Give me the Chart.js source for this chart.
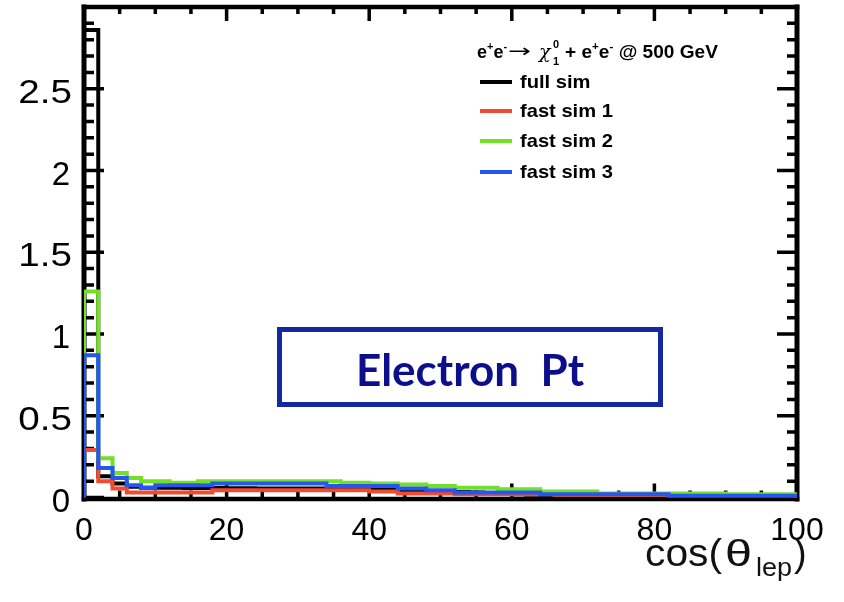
<!DOCTYPE html>
<html>
<head>
<meta charset="utf-8">
<script src="https://cdn.jsdelivr.net/npm/chart.js@4.4.1/dist/chart.umd.min.js"></script>
<style>
  html, body { margin: 0; padding: 0; background: #fff; }
  #wrap { width: 844px; height: 602px; }
</style>
</head>
<body>
<div id="wrap"><canvas id="histChart" width="844" height="602"></canvas></div>
<script>
// histogram binning: 50 bins of width 2 between 0 and 100
const binStart = 0;
const binWidth = 2;

// bin contents
const fullSim = [
  2.86, 0.13, 0.085, 0.065, 0.06, 0.06, 0.06, 0.058, 0.058, 0.058,
  0.056, 0.056, 0.055, 0.055, 0.055, 0.055, 0.055, 0.053, 0.052, 0.05,
  0.048, 0.046, 0.044, 0.042, 0.04, 0.037, 0.034, 0.03, 0.027, 0.024,
  0.02, 0.017, 0.012, 0.01, 0.008, 0.008, 0.007, 0.007, 0.006, 0.006,
  0.005, 0.005, 0.005, 0.004, 0.004, 0.004, 0.004, 0.003, 0.003, 0.003
];
const fastSim1 = [
  0.29, 0.10, 0.055, 0.03, 0.03, 0.03, 0.03, 0.03, 0.03, 0.045,
  0.045, 0.045, 0.045, 0.045, 0.045, 0.045, 0.045, 0.045, 0.045, 0.045,
  0.037, 0.037, 0.025, 0.025, 0.025, 0.025, 0.02, 0.02, 0.02, 0.02,
  0.02, 0.02, 0.02, 0.015, 0.015, 0.015, 0.015, 0.015, 0.015, 0.015,
  0.015, 0.005, 0.005, 0.005, 0.005, 0.005, 0.005, 0.005, 0.005, 0.005
];
const fastSim2 = [
  1.26, 0.24, 0.15, 0.12, 0.10, 0.10, 0.09, 0.09, 0.10, 0.10,
  0.10, 0.10, 0.10, 0.10, 0.10, 0.10, 0.10, 0.10, 0.09, 0.09,
  0.085, 0.085, 0.08, 0.08, 0.07, 0.07, 0.06, 0.06, 0.06, 0.05,
  0.05, 0.05, 0.037, 0.037, 0.037, 0.037, 0.025, 0.025, 0.025, 0.025,
  0.025, 0.025, 0.025, 0.025, 0.025, 0.02, 0.02, 0.02, 0.02, 0.02
];
const fastSim3 = [
  0.87, 0.18, 0.12, 0.075, 0.06, 0.075, 0.075, 0.075, 0.075, 0.085,
  0.085, 0.085, 0.085, 0.085, 0.085, 0.085, 0.085, 0.07, 0.07, 0.07,
  0.07, 0.07, 0.055, 0.055, 0.045, 0.045, 0.03, 0.03, 0.03, 0.03,
  0.03, 0.03, 0.02, 0.02, 0.02, 0.02, 0.02, 0.02, 0.02, 0.02,
  0.02, 0.01, 0.01, 0.01, 0.01, 0.01, 0.01, 0.01, 0.01, 0.01
];

const seriesNames = ["full sim", "fast sim 1", "fast sim 2", "fast sim 3"];
const seriesColors = ["#000000", "#f04a30", "#72e024", "#2456f2"];

const xTicks = [0, 20, 40, 60, 80, 100];
const xTickLabels = ["0", "20", "40", "60", "80", "100"];
const yTicks = [0, 0.5, 1, 1.5, 2, 2.5];
const yTickLabels = ["0", "0.5", "1", "1.5", "2", "2.5"];
const xMinorStep = 5;
const yMinorStep = 0.1;

// turn bin contents into the outline of a ROOT-style step histogram
function histPoints(vals) {
  const pts = [{ x: binStart, y: 0 }];
  vals.forEach((v, i) => pts.push({ x: binStart + i * binWidth, y: v }));
  const end = binStart + vals.length * binWidth;
  pts.push({ x: end, y: vals[vals.length - 1] });
  pts.push({ x: end, y: 0 });
  return pts;
}

const allSeries = [fullSim, fastSim1, fastSim2, fastSim3];
// drawing order: blue on top, black underneath
const drawOrder = [3, 2, 1, 0];

const datasets = allSeries.map((vals, i) => ({
  label: seriesNames[i],
  data: histPoints(vals),
  borderColor: seriesColors[i],
  backgroundColor: seriesColors[i],
  borderWidth: 4,
  stepped: "before",
  pointRadius: 0,
  fill: false,
  tension: 0,
  borderJoinStyle: "miter",
  borderCapStyle: "butt",
  order: drawOrder[i],
}));

// draw text squeezed/stretched to a given width
function fitText(ctx, text, x, y, width) {
  const w = ctx.measureText(text).width;
  ctx.save();
  ctx.translate(x, y);
  ctx.scale(width / w, 1);
  ctx.fillText(text, 0, 0);
  ctx.restore();
}

// frame, inward ticks and tick labels like a ROOT canvas
const rootFrame = {
  id: "rootFrame",
  beforeDatasetsDraw(chart) {
    const ctx = chart.ctx;
    const xs = chart.scales.x;
    const ys = chart.scales.y;
    const L = xs.getPixelForValue(0), R = xs.getPixelForValue(100);
    const B = ys.getPixelForValue(0), T = ys.getPixelForValue(3);
    ctx.save();
    ctx.strokeStyle = "#000";
    ctx.lineCap = "square";
    // frame
    ctx.lineWidth = 5;
    ctx.beginPath();
    ctx.moveTo(L, T); ctx.lineTo(L, B + 1.5);
    ctx.moveTo(R, T); ctx.lineTo(R, B + 1.5);
    ctx.stroke();
    ctx.lineWidth = 4.5;
    ctx.beginPath();
    ctx.moveTo(L, B + 1.5); ctx.lineTo(R, B + 1.5);
    ctx.moveTo(L, T); ctx.lineTo(R, T);
    ctx.stroke();

    ctx.lineCap = "butt";
    ctx.lineWidth = 3.5;
    ctx.beginPath();
    // x ticks bottom and top
    for (let v = 0; v <= 100 + 1e-9; v += xMinorStep) {
      const px = xs.getPixelForValue(v);
      const len = v % 20 === 0 ? 14 : 7;
      ctx.moveTo(px, B); ctx.lineTo(px, B - len);
      ctx.moveTo(px, T); ctx.lineTo(px, T + len);
    }
    // y ticks left and right
    for (let k = 0; k <= 30; k++) {
      const v = k * yMinorStep;
      const py = ys.getPixelForValue(v);
      const len = k % 5 === 0 ? 20 : 10;
      ctx.moveTo(L, py); ctx.lineTo(L + len, py);
      ctx.moveTo(R, py); ctx.lineTo(R - len, py);
    }
    ctx.stroke();

    // tick labels
    ctx.fillStyle = "#000";
    ctx.font = "33px 'Liberation Sans', Arial, sans-serif";
    ctx.textAlign = "right";
    ctx.textBaseline = "alphabetic";
    yTicks.forEach((v, i) => {
      const lab = yTickLabels[i];
      const py = ys.getPixelForValue(v) + 14;
      if (lab.includes(".")) {
        const w = ctx.measureText(lab).width;
        ctx.textAlign = "left";
        fitText(ctx, lab, 72 - w * 1.17, py, w * 1.17);
        ctx.textAlign = "right";
      } else {
        ctx.fillText(lab, 70, py);
      }
    });
    ctx.font = "32px 'Liberation Sans', Arial, sans-serif";
    ctx.textAlign = "center";
    xTicks.forEach((v, i) => {
      ctx.fillText(xTickLabels[i], xs.getPixelForValue(v), 540);
    });

    // x axis title cos(θ_lep)
    ctx.fillStyle = "#111";
    ctx.textAlign = "left";
    ctx.font = "38px 'Liberation Sans', Arial, sans-serif";
    fitText(ctx, "cos(", 645, 566, 77);
    ctx.font = "37px 'Liberation Sans', Arial, sans-serif";
    fitText(ctx, "\u03b8", 725, 566, 27);
    ctx.font = "25px 'Liberation Sans', Arial, sans-serif";
    fitText(ctx, "lep", 756, 576, 36);
    ctx.font = "38px 'Liberation Sans', Arial, sans-serif";
    ctx.fillText(")", 794, 566);
    ctx.restore();
  },
  afterDraw(chart) {
    const ctx = chart.ctx;
    ctx.save();
    // legend header: e+e- -> chi_1^0 + e+e- @ 500 GeV
    ctx.fillStyle = "#000";
    ctx.textBaseline = "alphabetic";
    ctx.textAlign = "left";
    const big = "bold 18px 'Liberation Sans', Arial, sans-serif";
    const small = "bold 11px 'Liberation Sans', Arial, sans-serif";
    const base = 58;
    let x = 477;
    const piece = (t, f, dy) => {
      ctx.font = f;
      ctx.fillText(t, x, base + dy);
      x += ctx.measureText(t).width;
    };
    piece("e", big, 0); piece("+", small, -8);
    piece("e", big, 0); piece("-", small, -8);
    ctx.font = "18px 'DejaVu Sans', sans-serif";
    fitText(ctx, "\u2192", x + 1, base - 1, 23);
    ctx.font = "italic 19px 'DejaVu Serif', serif";
    ctx.fillText("\u03c7", 539, base);
    ctx.font = small;
    ctx.fillText("0", 553, base - 10);
    ctx.fillText("1", 553, base + 7);
    // right part, slightly stretched like the original
    ctx.save();
    ctx.translate(565, 0);
    ctx.scale(1.06, 1);
    x = 0;
    piece("+ e", big, 0); piece("+", small, -8);
    piece("e", big, 0); piece("-", small, -8);
    piece(" @ 500 GeV", big, 0);
    ctx.restore();

    // legend entries
    const rows = [82, 111, 141, 172];
    seriesNames.forEach((name, i) => {
      ctx.strokeStyle = seriesColors[i];
      ctx.lineWidth = 4;
      ctx.beginPath();
      ctx.moveTo(480, rows[i]); ctx.lineTo(512, rows[i]);
      ctx.stroke();
      ctx.fillStyle = "#000";
      ctx.font = "bold 19px 'Liberation Sans', Arial, sans-serif";
      const w = ctx.measureText(name).width;
      fitText(ctx, name, 520, rows[i] + 6, w * 1.06);
    });

    // "Electron  Pt" box
    ctx.fillStyle = "#fff";
    ctx.fillRect(279, 329, 382, 76);
    ctx.strokeStyle = "#1428a0";
    ctx.lineWidth = 5;
    ctx.strokeRect(279.5, 329.5, 381, 75);
    ctx.fillStyle = "#0c0e8c";
    ctx.font = "bold 44px Lato, 'Open Sans', sans-serif";
    ctx.textAlign = "center";
    ctx.fillText("Electron  Pt", 470, 386);
    ctx.restore();
  },
};

const ctx = document.getElementById("histChart").getContext("2d");
new Chart(ctx, {
  type: "line",
  data: { datasets: datasets },
  options: {
    responsive: false,
    animation: false,
    layout: { padding: { left: 84, right: 47, top: 7, bottom: 104.5 } },
    plugins: { legend: { display: false }, tooltip: { enabled: false } },
    scales: {
      x: { type: "linear", min: 0, max: 100, display: false },
      y: { type: "linear", min: 0, max: 3, display: false },
    },
  },
  plugins: [rootFrame],
});
</script>
</body>
</html>
